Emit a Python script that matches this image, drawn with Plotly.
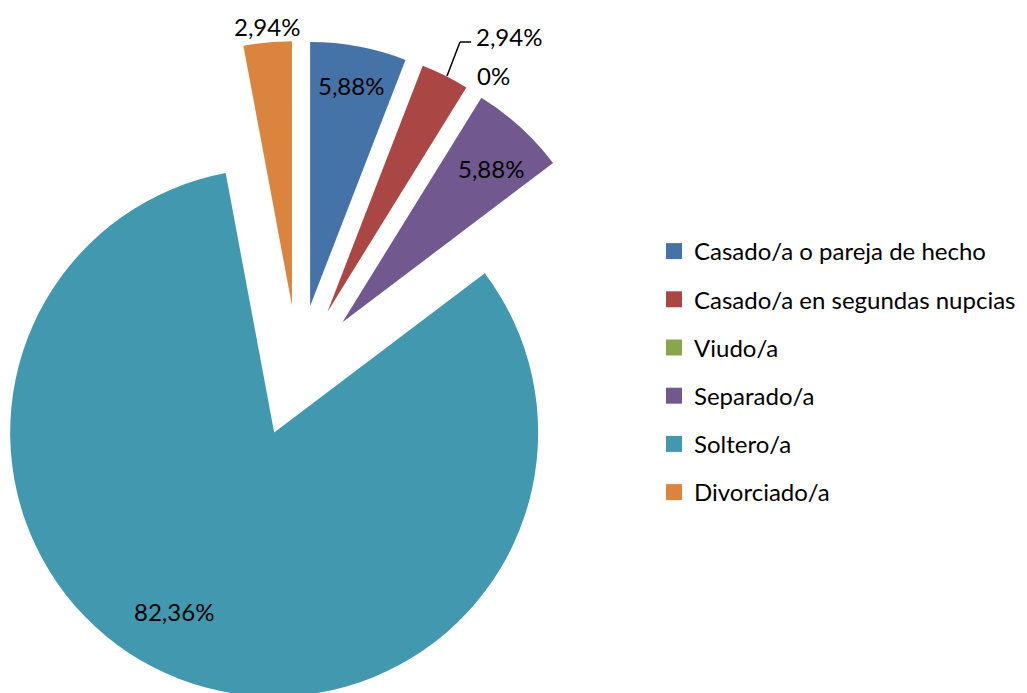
import math
import plotly.graph_objects as go

# ---------------- data ----------------
categories = [
    "Casado/a o pareja de hecho",
    "Casado/a en segundas nupcias",
    "Viudo/a",
    "Separado/a",
    "Soltero/a",
    "Divorciado/a",
]
percentages = [5.88, 2.94, 0.0, 5.88, 82.36, 2.94]
colors = ["#4572A7", "#AA4643", "#89A54E", "#71588F", "#4198AF", "#DB843D"]

# label anchor positions (screen pixels, layout only)
label_pos_px = [(351, 86), (509, 36), (493, 75), (491, 168), (174, 611), (267, 26)]

# ---------------- layout constants ----------------
W, H = 1027, 693
PAGE_OFFSET = 8           # the page body margin shifts the figure by this much
CENTER = (298.0, 371.0)   # centre of the un-exploded pie (screen px)
EXPLODE = 66.0            # explosion distance (px)
RADIUS = 264.0            # slice radius (px)
FONT = "Lato"
FS = 24
LEG_FS = 24


def fmt(v):
    if v == 0:
        return "0%"
    return f"{v:.2f}".replace(".", ",") + "%"


def fx(x):
    return (x - PAGE_OFFSET) / W


def fy(y):
    return 1 - (y - PAGE_OFFSET) / H


fig = go.Figure()

total = sum(percentages)
n = len(categories)
cum = 0.0
for i, v in enumerate(percentages):
    start = cum
    cum += v
    if v <= 0:
        continue
    mid = 2 * math.pi * (start + v / 2) / total
    cx = CENTER[0] + EXPLODE * math.sin(mid)
    cy = CENTER[1] - EXPLODE * math.cos(mid)
    slice_colors = [colors[j] if j == i else "rgba(0,0,0,0)" for j in range(n)]
    fig.add_trace(
        go.Pie(
            labels=categories,
            values=percentages,
            sort=False,
            direction="clockwise",
            rotation=0,
            marker=dict(colors=slice_colors, line=dict(width=0)),
            textinfo="none",
            hoverinfo="skip",
            showlegend=False,
            domain=dict(
                x=[max(0.0, fx(cx - RADIUS)), min(1.0, fx(cx + RADIUS))],
                y=[max(0.0, fy(cy + RADIUS)), min(1.0, fy(cy - RADIUS))],
            ),
        )
    )

# legend entries
for cat, col in zip(categories, colors):
    fig.add_trace(
        go.Scatter(
            x=[None], y=[None], mode="markers", name=cat,
            legendgroup=cat,
            marker=dict(symbol="square", size=16, color=col),
        )
    )

# data labels
annotations = []
for v, (lx, ly) in zip(percentages, label_pos_px):
    annotations.append(dict(
        x=fx(lx), y=fy(ly), xref="paper", yref="paper", text=fmt(v), showarrow=False,
        xanchor="center", yanchor="middle",
        font=dict(family=FONT, size=FS, color="#000000"),
    ))

# leader line for the red slice label
lead = [(447, 76), (460, 42), (471, 42)]
shapes = []
for (x0, y0), (x1, y1) in zip(lead[:-1], lead[1:]):
    shapes.append(dict(type="line", xref="paper", yref="paper",
                       x0=fx(x0), y0=fy(y0), x1=fx(x1), y1=fy(y1),
                       line=dict(color="#000000", width=1.5)))

fig.update_layout(
    width=W, height=H,
    margin=dict(l=0, r=0, t=0, b=0),
    paper_bgcolor="white", plot_bgcolor="white",
    annotations=annotations,
    shapes=shapes,
    legend=dict(
        x=fx(654), y=fy(372), xanchor="left", yanchor="middle",
        font=dict(family=FONT, size=LEG_FS, color="#000000"),
        tracegroupgap=14, bgcolor="rgba(0,0,0,0)",
    ),
    font=dict(family=FONT),
)
fig.update_xaxes(visible=False)
fig.update_yaxes(visible=False)

fig.write_html("out.html")
